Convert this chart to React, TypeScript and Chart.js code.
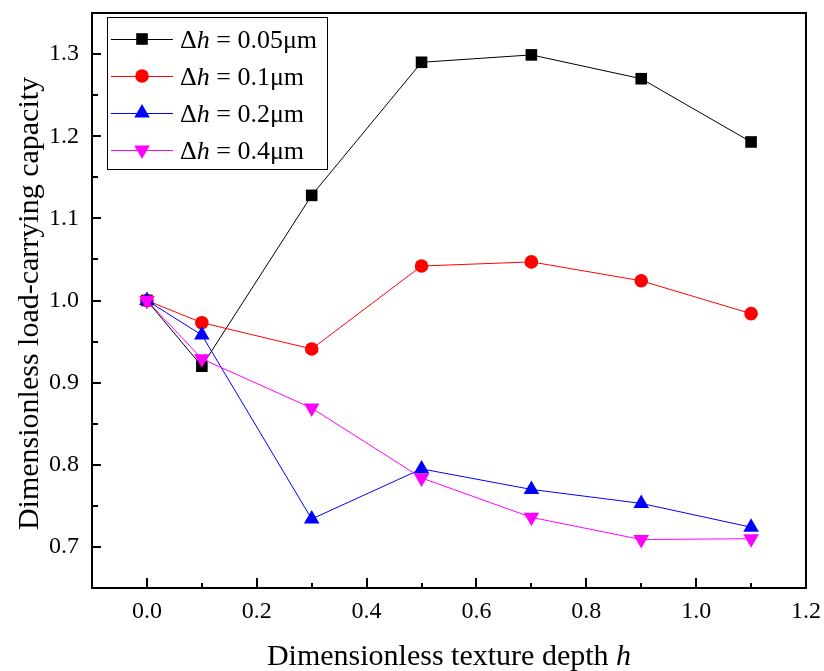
import React, { useEffect, useRef } from 'react';
import { Chart, registerables } from 'chart.js';

Chart.register(...registerables);

// ---- data ----
const xValues = [0, 0.1, 0.3, 0.5, 0.7, 0.9, 1.1];
const dh005 = [1.0, 0.92, 1.128, 1.290, 1.299, 1.270, 1.193];
const dh01 = [1.0, 0.973, 0.941, 1.042, 1.047, 1.024, 0.984];
const dh02 = [1.0, 0.958, 0.734, 0.795, 0.770, 0.753, 0.724];
const dh04 = [1.0, 0.929, 0.869, 0.784, 0.736, 0.709, 0.710];
const seriesValues = [dh005, dh01, dh02, dh04];
const seriesNames = ['0.05μm', '0.1μm', '0.2μm', '0.4μm'];

const xMajorTicks = [0, 0.2, 0.4, 0.6, 0.8, 1.0, 1.2];
const xMinorTicks = [0.1, 0.3, 0.5, 0.7, 0.9, 1.1];
const yMajorTicks = [0.7, 0.8, 0.9, 1.0, 1.1, 1.2, 1.3];
const yMinorTicks = [0.75, 0.85, 0.95, 1.05, 1.15, 1.25];

const xTitleMain = 'Dimensionless texture depth ';
const xTitleItalic = 'h';
const yTitle = 'Dimensionless load-carrying capacity';

// ---- styles ----
const colors = ['#000000', '#FF0000', '#0000FF', '#FF00FF'];
const shapes = ['rect', 'circle', 'triangle', 'triangle'];
const rotations = [0, 0, 0, 180];
const radii = [8.2, 6.8, 9, 9];
const FONT = '"Liberation Serif", "Times New Roman", serif';

function drawMarker(ctx: CanvasRenderingContext2D, i: number, x: number, y: number) {
  ctx.fillStyle = colors[i];
  ctx.beginPath();
  const r = radii[i];
  if (shapes[i] === 'rect') {
    const s = r * Math.SQRT1_2;
    ctx.rect(x - s, y - s, 2 * s, 2 * s);
  } else if (shapes[i] === 'circle') {
    ctx.arc(x, y, r, 0, Math.PI * 2);
  } else {
    let rad = (rotations[i] * Math.PI) / 180;
    for (let k = 0; k < 3; k++) {
      const px = x + Math.sin(rad) * r;
      const py = y - Math.cos(rad) * r;
      if (k === 0) ctx.moveTo(px, py);
      else ctx.lineTo(px, py);
      rad += (2 * Math.PI) / 3;
    }
    ctx.closePath();
  }
  ctx.fill();
}

const decorPlugin = {
  id: 'decor',
  afterDraw(chart: any) {
    const ctx: CanvasRenderingContext2D = chart.ctx;
    const { left, top, right, bottom } = chart.chartArea;
    const xs = chart.scales.x;
    const ys = chart.scales.y;
    ctx.save();
    // frame
    ctx.strokeStyle = '#000';
    ctx.lineWidth = 2;
    ctx.strokeRect(left, top, right - left, bottom - top);
    // ticks (inward)
    ctx.beginPath();
    xMajorTicks.forEach((v) => {
      const p = Math.round(xs.getPixelForValue(v));
      ctx.moveTo(p, bottom);
      ctx.lineTo(p, bottom - 10);
    });
    xMinorTicks.forEach((v) => {
      const p = Math.round(xs.getPixelForValue(v));
      ctx.moveTo(p, bottom);
      ctx.lineTo(p, bottom - 5);
    });
    yMajorTicks.forEach((v) => {
      const p = Math.round(ys.getPixelForValue(v));
      ctx.moveTo(left, p);
      ctx.lineTo(left + 9, p);
    });
    yMinorTicks.forEach((v) => {
      const p = Math.round(ys.getPixelForValue(v));
      ctx.moveTo(left, p);
      ctx.lineTo(left + 6, p);
    });
    ctx.stroke();

    // x title with italic h
    ctx.fillStyle = '#000';
    ctx.textBaseline = 'alphabetic';
    ctx.textAlign = 'left';
    const fReg = `30px ${FONT}`;
    const fIt = `italic 30px ${FONT}`;
    ctx.font = fReg;
    const w1 = ctx.measureText(xTitleMain).width;
    ctx.font = fIt;
    const w2 = ctx.measureText(xTitleItalic).width;
    const cx = (left + right) / 2;
    const sx = cx - (w1 + w2) / 2;
    ctx.font = fReg;
    ctx.fillText(xTitleMain, sx, 665);
    ctx.font = fIt;
    ctx.fillText(xTitleItalic, sx + w1, 665);

    // y title
    ctx.save();
    ctx.translate(38, (top + bottom) / 2 + 3);
    ctx.rotate(-Math.PI / 2);
    ctx.font = fReg;
    ctx.textAlign = 'center';
    ctx.fillText(yTitle, 0, 0);
    ctx.restore();

    // legend
    const lx = 107.5, ly = 17.5, lw = 220, lh = 152;
    ctx.fillStyle = '#fff';
    ctx.fillRect(lx, ly, lw, lh);
    ctx.strokeStyle = '#000';
    ctx.lineWidth = 1;
    ctx.strokeRect(lx, ly, lw, lh);
    const legFont = `26px ${FONT}`;
    const legIt = `italic 26px ${FONT}`;
    seriesNames.forEach((name, i) => {
      const ry = 39 + i * 37;
      ctx.strokeStyle = colors[i];
      ctx.lineWidth = 1;
      ctx.beginPath();
      ctx.moveTo(111, ry + 0.5);
      ctx.lineTo(173, ry + 0.5);
      ctx.stroke();
      drawMarker(ctx, i, 142, ry);
      ctx.fillStyle = '#000';
      ctx.textAlign = 'left';
      let tx = 180;
      ctx.font = legFont;
      ctx.fillText('Δ', tx, ry + 9);
      tx += ctx.measureText('Δ').width;
      ctx.font = legIt;
      ctx.fillText('h', tx, ry + 9);
      tx += ctx.measureText('h').width;
      ctx.font = legFont;
      ctx.fillText(' = ' + name, tx, ry + 9);
    });
    ctx.restore();
  },
};

export default function App() {
  const ref = useRef<HTMLCanvasElement | null>(null);
  useEffect(() => {
    document.body.style.margin = '0';
    document.body.style.overflow = 'hidden';
    Chart.defaults.color = '#000';
    let chart: Chart | null = null;
    let cancelled = false;
    const build = () => {
      if (cancelled || !ref.current) return;
      const datasets = seriesValues.map((vals, i) => ({
        label: 'Δh = ' + seriesNames[i],
        data: xValues.map((x, k) => ({ x, y: vals[k] })),
        borderColor: colors[i],
        backgroundColor: colors[i],
        borderWidth: 1,
        pointStyle: shapes[i],
        pointRotation: rotations[i],
        pointRadius: radii[i],
        pointBorderWidth: 0,
        pointBackgroundColor: colors[i],
        pointBorderColor: colors[i],
        order: 4 - i,
        tension: 0,
        clip: false,
      }));
      chart = new Chart(ref.current, {
        type: 'line',
        data: { datasets: datasets as any },
        options: {
          animation: false,
          responsive: false,
          devicePixelRatio: 1,
          layout: { padding: { left: 0, top: 13, right: 18, bottom: 0 } },
          plugins: { legend: { display: false }, tooltip: { enabled: false } },
          scales: {
            x: {
              type: 'linear',
              min: -0.1,
              max: 1.2,
              grid: { display: false, drawTicks: false },
              border: { display: false },
              afterBuildTicks: (s: any) => {
                s.ticks = xMajorTicks.map((v) => ({ value: v }));
              },
              afterFit: (s: any) => {
                s.height = 83;
                s.paddingLeft = 0;
                s.paddingRight = 0;
              },
              ticks: {
                padding: 9,
                maxRotation: 0,
                font: { family: FONT, size: 24 },
                color: '#000',
                callback: (v: any) => Number(v).toFixed(1),
              },
            },
            y: {
              type: 'linear',
              min: 0.65,
              max: 1.35,
              grid: { display: false, drawTicks: false },
              border: { display: false },
              afterBuildTicks: (s: any) => {
                s.ticks = yMajorTicks.map((v) => ({ value: v }));
              },
              afterFit: (s: any) => {
                s.width = 92;
                s.paddingTop = 0;
                s.paddingBottom = 0;
              },
              ticks: {
                padding: 13,
                font: { family: FONT, size: 24 },
                color: '#000',
                callback: (v: any) => Number(v).toFixed(1),
              },
            },
          },
        },
        plugins: [decorPlugin],
      });
    };
    const fontsApi: any = (document as any).fonts;
    if (fontsApi && fontsApi.load) {
      Promise.all([
        fontsApi.load('24px "Liberation Serif"'),
        fontsApi.load('italic 24px "Liberation Serif"'),
      ])
        .catch(() => {})
        .then(build);
    } else {
      build();
    }
    return () => {
      cancelled = true;
      if (chart) chart.destroy();
    };
  }, []);
  return (
    <div style={{ width: 824, height: 671, background: '#fff' }}>
      <canvas ref={ref} width={824} height={671} style={{ display: 'block' }} />
    </div>
  );
}
